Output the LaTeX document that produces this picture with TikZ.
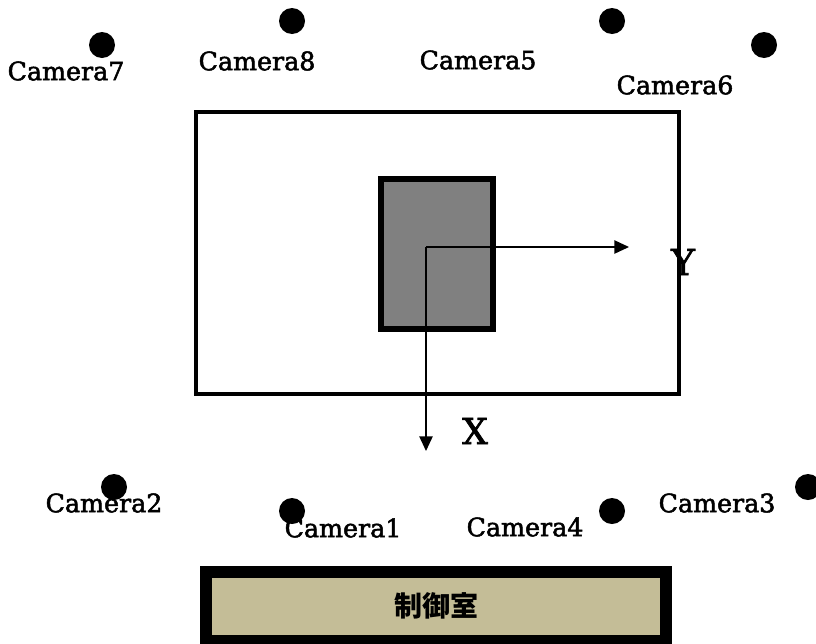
\documentclass[tikz,border=0pt]{standalone}
\usepackage{fontspec}
\setmainfont{DejaVu Serif}
\newfontfamily\labelfont[FakeBold=2]{DejaVu Serif}
\newfontfamily\cjk{Noto Sans CJK JP}
\usetikzlibrary{arrows.meta}
\definecolor{roomtan}{RGB}{196,189,151}
\definecolor{blockgray}{RGB}{128,128,128}
\tikzset{
  camdot/.style={circle,fill=black,inner sep=0pt,minimum size=19.5pt},
  camlabel/.style={inner sep=0pt,font=\labelfont\fontsize{19}{21}\selectfont},
  axislabel/.style={inner sep=0pt,font=\labelfont\fontsize{27}{30}\selectfont},
  axisarrow/.style={line width=1.1pt,-{Triangle[length=11pt,width=10pt]}},
}
\begin{document}
\begin{tikzpicture}[x=0.75pt,y=-0.75pt]
\useasboundingbox (0,0) rectangle (816,643);
% hall and the object in it
\draw[line width=2.4pt] (196,112) rectangle (679,394);
\draw[line width=3.8pt,fill=blockgray] (381,179) rectangle (493,329);
% coordinate axes
\coordinate (o) at (426,247);
\coordinate (ye) at (629,247);
\coordinate (xe) at (426,451);
\draw[axisarrow] (o) -- (ye);
\draw[axisarrow] (o) -- (xe);
\node[axislabel] (ylab) at (683,262) {Y};
\node[axislabel] (xlab) at (475,431) {X};
% camera names (the dots are drawn over them)
\node[camlabel] (l7) at (66,71) {Camera7};
\node[camlabel] (l8) at (257,61) {Camera8};
\node[camlabel] (l5) at (478,60) {Camera5};
\node[camlabel] (l6) at (675,85) {Camera6};
\node[camlabel] (l2) at (104,503) {Camera2};
\node[camlabel] (l1) at (343,528) {Camera1};
\node[camlabel] (l4) at (525,527) {Camera4};
\node[camlabel] (l3) at (717,503) {Camera3};
% cameras
\node[camdot] (c7) at (102,45) {};
\node[camdot] (c8) at (292,21) {};
\node[camdot] (c5) at (612,21) {};
\node[camdot] (c6) at (764,45) {};
\node[camdot] (c2) at (114,487) {};
\node[camdot] (c1) at (292,511) {};
\node[camdot] (c4) at (612,511) {};
\node[camdot] (c3) at (808,487) {};
% control room
\draw[line width=9pt,fill=roomtan] (206,572) rectangle (666,641);
\node[inner sep=0pt,font=\cjk\bfseries\fontsize{21}{23}\selectfont] (room) at (436,606) {制御室};
\end{tikzpicture}
\end{document}
